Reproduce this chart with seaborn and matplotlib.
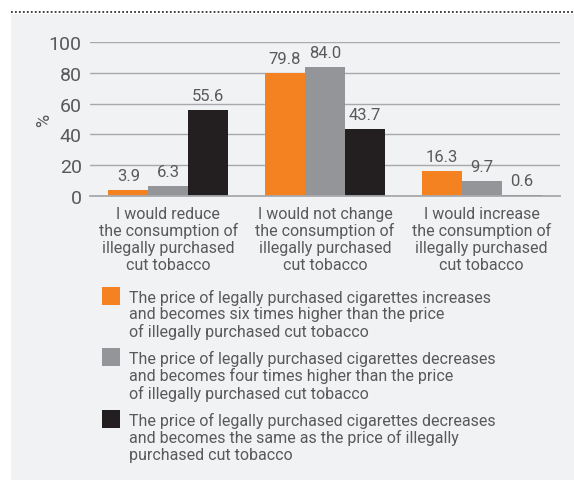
import pandas as pd
import matplotlib
matplotlib.use("Agg")
import matplotlib.pyplot as plt
import seaborn as sns
from matplotlib.patches import Rectangle
from matplotlib.lines import Line2D

# data
categories = [
    "I would reduce\nthe consumption of\nillegally purchased\ncut tobacco",
    "I would not change\nthe consumption of\nillegally purchased\ncut tobacco",
    "I would increase\nthe consumption of\nillegally purchased\ncut tobacco",
]
series = [
    "The price of legally purchased cigarettes increases\nand becomes six times higher than the price\nof illegally purchased cut tobacco",
    "The price of legally purchased cigarettes decreases\nand becomes four times higher than the price\nof illegally purchased cut tobacco",
    "The price of legally purchased cigarettes decreases\nand becomes the same as the price of illegally\npurchased cut tobacco",
]
six_times = [3.9, 79.8, 16.3]
four_times = [6.3, 84.0, 9.7]
same_price = [55.6, 43.7, 0.6]
colors = ["#f58220", "#939598", "#231f20"]

rows = []
for name, vals in zip(series, [six_times, four_times, same_price]):
    for cat, v in zip(categories, vals):
        rows.append({"answer": cat, "scenario": name, "pct": v})
df = pd.DataFrame(rows)

sns.set_style("white")
plt.rcParams["font.family"] = ["Roboto", "DejaVu Sans"]

text_col = "#58595b"
grid_col = "#a7a9ac"
panel_col = "#f1f2f4"

W, H = 574, 481
fig = plt.figure(figsize=(W / 100, H / 100), dpi=100)
fig.patch.set_facecolor("white")

# grey panel and dotted rule on top
fig.add_artist(Rectangle((11 / W, 0), 1 - 11 / W, 1 - 15 / H, transform=fig.transFigure,
                         facecolor=panel_col, edgecolor="none", zorder=0))
fig.add_artist(Line2D([11 / W, 1], [1 - 13 / H, 1 - 13 / H], transform=fig.transFigure,
                      color="#333333", lw=1.3, linestyle=(0, (1, 1.2))))

ax = fig.add_axes([90 / W, (H - 197) / H, 470 / W, 154 / H])
ax.set_facecolor("none")

sns.barplot(data=df, x="answer", y="pct", hue="scenario", palette=colors,
            width=0.765, gap=0, saturation=1, legend=False, linewidth=0,
            ax=ax, zorder=3)

for cont in ax.containers:
    ax.bar_label(cont, fmt="%.1f", padding=5, fontsize=12, color=text_col)

ax.set_ylim(0, 100)
ax.set_xlim(-0.5, 2.5)
ax.set_yticks([0, 20, 40, 60, 80, 100])
ax.yaxis.grid(True, color=grid_col, lw=1, zorder=0)
ax.set_axisbelow(True)
for s in ["top", "right", "left"]:
    ax.spines[s].set_visible(False)
ax.spines["bottom"].set_color(grid_col)
ax.spines["bottom"].set_linewidth(1.3)
ax.spines["bottom"].set_zorder(4)

ax.set_xticks([-0.5, 0.5, 1.5, 2.5], minor=True)
ax.tick_params(axis="x", which="minor", length=4, width=1.3, color=grid_col, direction="out")
ax.tick_params(axis="x", which="major", length=0, pad=7, labelsize=11.5, labelcolor=text_col)
ax.tick_params(axis="y", length=0, pad=6, labelsize=14, labelcolor=text_col)
for lab in ax.get_xticklabels():
    lab.set_linespacing(1.13)

ax.set_xlabel("")
ax.set_ylabel("%", fontsize=13, color=text_col, labelpad=-3)

# legend, square swatches aligned with first text line
tops = [288, 349, 411]
for top, name, c in zip(tops, series, colors):
    fig.add_artist(Rectangle((102 / W, 1 - (top + 18) / H), 18 / W, 18 / H,
                             transform=fig.transFigure, facecolor=c, edgecolor="none"))
    fig.text(129 / W, 1 - (top + 2) / H, name, ha="left", va="top", fontsize=11.5,
             color=text_col, linespacing=1.1)

fig.savefig("out.png", dpi=100)
